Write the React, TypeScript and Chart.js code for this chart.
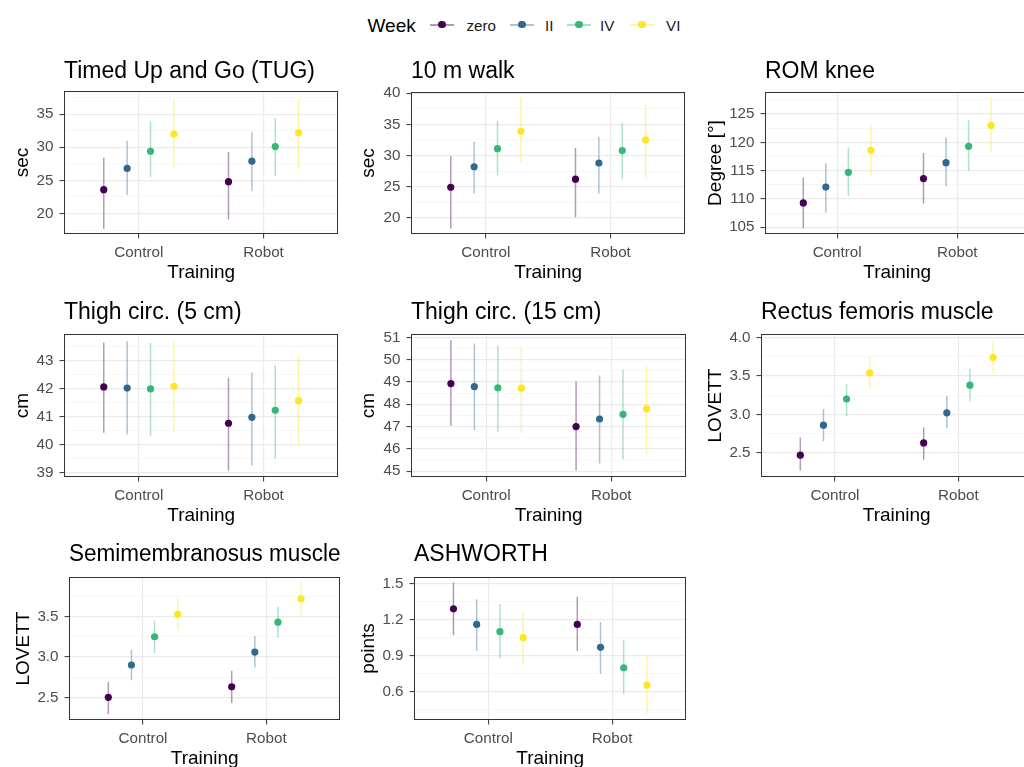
import React, { useEffect, useRef } from 'react';
import { Chart, registerables } from 'chart.js';

Chart.register(...registerables);

// ---------- data ----------
const categories = ['Control', 'Robot'];
const weeks = ['zero', 'II', 'IV', 'VI'];
const weekColors = ['#440154', '#31688E', '#35B779', '#FDE725'];
const dodgeOffsets = [-0.28125, -0.09375, 0.09375, 0.28125];

// arrays are [week][category]
const tugMean = [[23.6, 24.8], [26.8, 27.9], [29.4, 30.1], [32.0, 32.2]];
const tugLow = [[17.7, 19.1], [22.8, 23.4], [25.5, 25.7], [27.0, 26.8]];
const tugHigh = [[28.4, 29.3], [31.0, 32.3], [33.9, 34.4], [37.3, 37.4]];
const tugTicks = [20, 25, 30, 35];
const tugMinor = [17.5, 22.5, 27.5, 32.5, 37.5];

const walkMean = [[24.9, 26.2], [28.2, 28.8], [31.1, 30.8], [33.9, 32.5]];
const walkLow = [[18.3, 20.1], [23.9, 23.9], [26.8, 26.2], [28.9, 26.4]];
const walkHigh = [[29.9, 31.2], [32.2, 33.0], [35.6, 35.2], [39.3, 38.1]];
const walkTicks = [20, 25, 30, 35, 40];
const walkMinor = [17.5, 22.5, 27.5, 32.5, 37.5];

const romMean = [[109.3, 113.6], [112.1, 116.4], [114.7, 119.3], [118.6, 123.0]];
const romLow = [[104.8, 109.2], [107.6, 112.2], [110.5, 115.0], [114.1, 118.3]];
const romHigh = [[113.8, 118.1], [116.3, 120.9], [119.1, 123.9], [123.1, 127.9]];
const romTicks = [105, 110, 115, 120, 125];
const romMinor = [107.5, 112.5, 117.5, 122.5, 127.5];

const thigh5Mean = [[42.06, 40.77], [42.02, 40.98], [41.99, 41.23], [42.08, 41.57]];
const thigh5Low = [[40.43, 39.08], [40.37, 39.27], [40.32, 39.52], [40.43, 39.95]];
const thigh5High = [[43.64, 42.39], [43.68, 42.57], [43.62, 42.83], [43.71, 43.2]];
const thigh5Ticks = [39, 40, 41, 42, 43];
const thigh5Minor = [39.5, 40.5, 41.5, 42.5, 43.5];

const thigh15Mean = [[48.93, 47.0], [48.79, 47.34], [48.74, 47.55], [48.72, 47.79]];
const thigh15Low = [[47.04, 45.02], [46.85, 45.35], [46.77, 45.54], [46.7, 45.75]];
const thigh15High = [[50.87, 49.02], [50.72, 49.29], [50.63, 49.55], [50.63, 49.74]];
const thigh15Ticks = [45, 46, 47, 48, 49, 50, 51];
const thigh15Minor = [45.5, 46.5, 47.5, 48.5, 49.5, 50.5];

const rectusMean = [[2.47, 2.63], [2.86, 3.02], [3.2, 3.38], [3.54, 3.74]];
const rectusLow = [[2.27, 2.41], [2.65, 2.82], [2.98, 3.17], [3.33, 3.54]];
const rectusHigh = [[2.7, 2.83], [3.07, 3.24], [3.39, 3.59], [3.75, 3.96]];
const rectusTicks = [2.5, 3.0, 3.5, 4.0];
const rectusMinor = [2.25, 2.75, 3.25, 3.75];

const semiMean = [[2.5, 2.63], [2.9, 3.06], [3.25, 3.43], [3.53, 3.72]];
const semiLow = [[2.29, 2.43], [2.71, 2.87], [3.05, 3.24], [3.33, 3.51]];
const semiHigh = [[2.69, 2.83], [3.09, 3.26], [3.45, 3.62], [3.73, 3.93]];
const semiTicks = [2.5, 3.0, 3.5];
const semiMinor = [2.25, 2.75, 3.25, 3.75];

const ashMean = [[1.29, 1.16], [1.16, 0.97], [1.1, 0.8], [1.05, 0.655]];
const ashLow = [[1.07, 0.94], [0.94, 0.75], [0.88, 0.58], [0.82, 0.42]];
const ashHigh = [[1.51, 1.39], [1.37, 1.18], [1.33, 1.03], [1.27, 0.905]];
const ashTicks = [0.6, 0.9, 1.2, 1.5];
const ashMinor = [0.45, 0.75, 1.05, 1.35];

const panels = [
  { title: 'Timed Up and Go (TUG)', yLabel: 'sec', mean: tugMean, low: tugLow, high: tugHigh, ticks: tugTicks, minor: tugMinor, min: 16.9, max: 38.5, decimals: 0 },
  { title: '10 m walk', yLabel: 'sec', mean: walkMean, low: walkLow, high: walkHigh, ticks: walkTicks, minor: walkMinor, min: 17.4, max: 40.2, decimals: 0 },
  { title: 'ROM knee', yLabel: 'Degree [°]', mean: romMean, low: romLow, high: romHigh, ticks: romTicks, minor: romMinor, min: 103.8, max: 128.9, decimals: 0 },
  { title: 'Thigh circ. (5 cm)', yLabel: 'cm', mean: thigh5Mean, low: thigh5Low, high: thigh5High, ticks: thigh5Ticks, minor: thigh5Minor, min: 38.86, max: 43.94, decimals: 0 },
  { title: 'Thigh circ. (15 cm)', yLabel: 'cm', mean: thigh15Mean, low: thigh15Low, high: thigh15High, ticks: thigh15Ticks, minor: thigh15Minor, min: 44.74, max: 51.15, decimals: 0 },
  { title: 'Rectus femoris muscle', yLabel: 'LOVETT', mean: rectusMean, low: rectusLow, high: rectusHigh, ticks: rectusTicks, minor: rectusMinor, min: 2.187, max: 4.044, decimals: 1 },
  { title: 'Semimembranosus muscle', yLabel: 'LOVETT', mean: semiMean, low: semiLow, high: semiHigh, ticks: semiTicks, minor: semiMinor, min: 2.219, max: 3.99, decimals: 1 },
  { title: 'ASHWORTH', yLabel: 'points', mean: ashMean, low: ashLow, high: ashHigh, ticks: ashTicks, minor: ashMinor, min: 0.365, max: 1.555, decimals: 1 },
];

// ---------- layout (page pixels) ----------
const boxes = [
  { cl: 0, ct: 53, pl: 64, pt: 91, pr: 340, pb: 234, yMid: 23, tMid: 71.5 },
  { cl: 345, ct: 53, pl: 411, pt: 92, pr: 687, pb: 234, yMid: 368.5, tMid: 71.5 },
  { cl: 695, ct: 53, pl: 765, pt: 92, pr: 1031, pb: 234, yMid: 715.5, tMid: 71.5 },
  { cl: 0, ct: 296, pl: 64, pt: 334, pr: 340, pb: 477, yMid: 23, tMid: 313 },
  { cl: 345, ct: 296, pl: 411, pt: 334, pr: 688, pb: 477, yMid: 368.5, tMid: 313 },
  { cl: 695, ct: 296, pl: 761, pt: 334, pr: 1034, pb: 477, yMid: 715.5, tMid: 313 },
  { cl: 0, ct: 538, pl: 69, pt: 577, pr: 342, pb: 720, yMid: 23.5, tMid: 554.5 },
  { cl: 345, ct: 538, pl: 414, pt: 577, pr: 688, pb: 720, yMid: 369, tMid: 554.5 },
];

const FONT = "'Liberation Sans', Arial, Helvetica, sans-serif";
const TITLE_SIZE = 23;
const AXIS_TITLE_SIZE = 19;
const TICK_SIZE = 15.2;
const X_AXIS_H = 50;
const RIGHT_PAD = 2;

function hexToRgba(hex: string, a: number) {
  const n = parseInt(hex.slice(1), 16);
  return `rgba(${(n >> 16) & 255},${(n >> 8) & 255},${n & 255},${a})`;
}

const panelBorder = {
  id: 'panelBorder',
  afterDatasetsDraw(chart: any) {
    const { ctx, chartArea } = chart;
    ctx.save();
    ctx.strokeStyle = '#333333';
    ctx.lineWidth = 1;
    const l = Math.round(chartArea.left) + 0.5;
    const t = Math.round(chartArea.top) + 0.5;
    const r = Math.round(chartArea.right) - 0.5;
    const b = Math.round(chartArea.bottom) - 0.5;
    ctx.strokeRect(l, t, r - l, b - t);
    ctx.restore();
  },
};

function Panel({ spec, box }: { spec: any; box: any }) {
  const ref = useRef<HTMLCanvasElement>(null);
  const width = box.pr - box.cl + RIGHT_PAD;
  const height = box.pb - box.ct + X_AXIS_H;

  useEffect(() => {
    const canvas = ref.current;
    if (!canvas) return;
    const isMajor = (v: number) => spec.ticks.some((t: number) => Math.abs(t - v) < 1e-6);
    const datasets: any[] = [];
    weeks.forEach((w, i) => {
      datasets.push({
        type: 'scatter',
        label: w,
        data: categories.map((c, j) => ({ x: j + 1 + dodgeOffsets[i], y: spec.mean[i][j] })),
        backgroundColor: weekColors[i],
        borderWidth: 0,
        pointRadius: 3.6,
        pointHoverRadius: 3.6,
        order: 1,
      });
    });
    weeks.forEach((w, i) => {
      const data: any[] = [];
      categories.forEach((c, j) => {
        const x = j + 1 + dodgeOffsets[i];
        data.push({ x, y: spec.low[i][j] }, { x, y: spec.high[i][j] }, { x, y: null });
      });
      datasets.push({
        type: 'line',
        label: w + ' interval',
        data,
        borderColor: hexToRgba(weekColors[i], 0.4),
        borderWidth: 1.5,
        pointRadius: 0,
        pointHoverRadius: 0,
        spanGaps: false,
        fill: false,
        order: 2,
      });
    });

    const titlePadTop = box.tMid - box.ct - TITLE_SIZE / 2;
    const titlePadBottom = box.pt - box.ct - TITLE_SIZE - titlePadTop;
    const yPadTop = box.yMid - box.cl - AXIS_TITLE_SIZE / 2;
    const yAxisW = box.pl - box.cl;

    const chart = new Chart(canvas, {
      type: 'scatter',
      data: { datasets },
      options: {
        responsive: false,
        animation: false,
        events: [],
        layout: { padding: { left: 0, top: 0, right: RIGHT_PAD, bottom: 0 } },
        plugins: {
          legend: { display: false },
          tooltip: { enabled: false },
          title: {
            display: true,
            text: spec.title,
            align: 'start',
            fullSize: false,
            color: '#000000',
            font: { family: FONT, size: TITLE_SIZE, weight: 'normal', lineHeight: 1 },
            padding: { top: titlePadTop, bottom: titlePadBottom },
          },
        },
        scales: {
          x: {
            type: 'linear',
            min: 0.4,
            max: 2.6,
            afterBuildTicks: (s: any) => {
              s.ticks = categories.map((c, j) => ({ value: j + 1 }));
            },
            afterFit: (s: any) => {
              s.height = X_AXIS_H;
            },
            ticks: {
              callback: (v: any) => categories[Math.round(Number(v)) - 1] ?? '',
              color: '#4D4D4D',
              font: { family: FONT, size: TICK_SIZE },
              padding: 4.7,
              maxRotation: 0,
              autoSkip: false,
            },
            grid: { color: '#EBEBEB', lineWidth: 1.2, tickLength: 4.5, tickColor: '#333333', tickWidth: 1 },
            border: { display: false },
            title: {
              display: true,
              text: 'Training',
              color: '#000000',
              font: { family: FONT, size: AXIS_TITLE_SIZE, lineHeight: 1 },
              padding: { top: 0, bottom: 1.5 },
            },
          },
          y: {
            type: 'linear',
            min: spec.min,
            max: spec.max,
            afterBuildTicks: (s: any) => {
              const all = [...spec.ticks, ...spec.minor].sort((a, b) => a - b);
              s.ticks = all.map((v) => ({ value: v }));
            },
            afterFit: (s: any) => {
              s.width = yAxisW;
            },
            ticks: {
              callback: (v: any) => (isMajor(Number(v)) ? Number(v).toFixed(spec.decimals) : ''),
              color: '#4D4D4D',
              font: { family: FONT, size: TICK_SIZE },
              padding: 6,
              autoSkip: false,
            },
            grid: {
              color: (ctx: any) => (ctx.tick && isMajor(ctx.tick.value) ? '#EBEBEB' : '#F3F3F3'),
              lineWidth: (ctx: any) => (ctx.tick && isMajor(ctx.tick.value) ? 1.2 : 0.7),
              tickLength: 4.5,
              tickColor: (ctx: any) => (ctx.tick && isMajor(ctx.tick.value) ? '#333333' : 'rgba(0,0,0,0)'),
              tickWidth: 1,
            },
            border: { display: false },
            title: {
              display: true,
              text: spec.yLabel,
              color: '#000000',
              font: { family: FONT, size: AXIS_TITLE_SIZE, lineHeight: 1 },
              padding: { top: yPadTop, bottom: 0 },
            },
          },
        },
      } as any,
      plugins: [panelBorder],
    });
    return () => chart.destroy();
  }, []);

  return (
    <canvas
      ref={ref}
      width={width}
      height={height}
      style={{ position: 'absolute', left: box.cl, top: box.ct, width, height }}
    />
  );
}

// legend layout (page pixels)
const legendKeyLeft = [430, 510, 567, 630];
const legendLabelLeft = [466.5, 545, 600, 666];

function Legend() {
  return (
    <div style={{ position: 'absolute', left: 0, top: 0, width: 1024, height: 50, fontFamily: FONT }}>
      <div style={{ position: 'absolute', left: 367.5, top: 15.5, fontSize: AXIS_TITLE_SIZE, lineHeight: '19px', color: '#000', whiteSpace: 'nowrap' }}>
        Week
      </div>
      {weeks.map((w, i) => (
        <React.Fragment key={w}>
          <div
            style={{
              position: 'absolute',
              left: legendKeyLeft[i],
              top: 24,
              width: 24,
              height: 1.5,
              background: hexToRgba(weekColors[i], 0.4),
            }}
          />
          <div
            style={{
              position: 'absolute',
              left: legendKeyLeft[i] + 12 - 3.6,
              top: 24.75 - 3.6,
              width: 7.2,
              height: 7.2,
              borderRadius: '50%',
              background: weekColors[i],
            }}
          />
          <div
            style={{
              position: 'absolute',
              left: legendLabelLeft[i],
              top: 25.5 - 7.6,
              fontSize: TICK_SIZE,
              lineHeight: '15.2px',
              color: '#1A1A1A',
              whiteSpace: 'nowrap',
            }}
          >
            {w}
          </div>
        </React.Fragment>
      ))}
    </div>
  );
}

export default function App() {
  return (
    <div
      style={{
        position: 'absolute',
        left: 0,
        top: 0,
        width: 1024,
        height: 767,
        overflow: 'hidden',
        background: '#ffffff',
      }}
    >
      <Legend />
      {panels.map((p, i) => (
        <Panel key={p.title} spec={p} box={boxes[i]} />
      ))}
    </div>
  );
}
